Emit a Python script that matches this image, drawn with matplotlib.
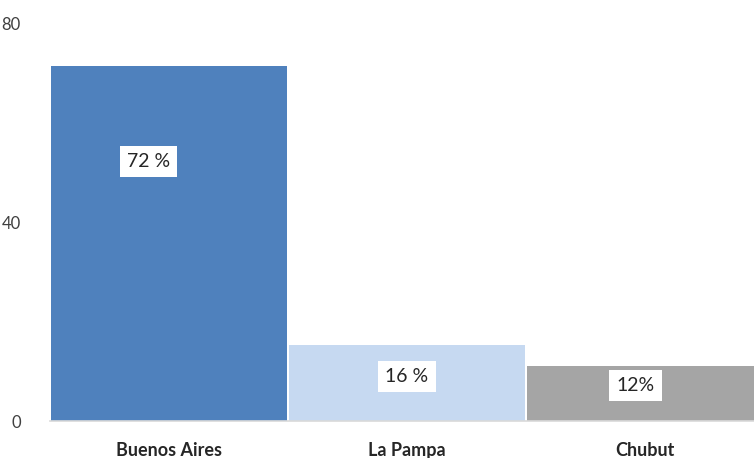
import matplotlib.pyplot as plt

plt.rcParams['font.family'] = ['Lato', 'DejaVu Sans']

provincias = ['Buenos Aires', 'La Pampa', 'Chubut']
valores = [71.6, 15.3, 11.1]
etiquetas = ['72 %', '16 %', '12%']
colores = ['#4F81BD', '#C6D9F1', '#A5A5A5']

# where the white label boxes sit (x offset from bar centre, y in data units)
etiq_dx = [-0.086, 0.0, -0.04]
etiq_y = [52.2, 8.9, 7.1]

fig = plt.figure(figsize=(7.54, 4.58), dpi=100)
ax = fig.add_axes([50 / 754, 37 / 458, 714 / 754, 397 / 458])

x = range(len(provincias))
ax.bar(x, valores, width=0.99, color=colores)

for i in x:
    ax.text(i + etiq_dx[i], etiq_y[i], etiquetas[i], ha='center', va='center',
            fontsize=14, color='#262626',
            bbox=dict(facecolor='white', edgecolor='none', pad=5))

ax.set_xlim(-0.5, 2.5)
ax.set_ylim(0, 80)
ax.set_yticks([0, 40, 80])
ax.set_xticks(list(x))
ax.set_xticklabels(provincias, fontsize=13, fontweight='bold', color='#262626')
ax.tick_params(axis='x', length=0, pad=15)
ax.tick_params(axis='y', length=0, pad=21, labelsize=12, labelcolor='#404040')

for s in ['top', 'right', 'left']:
    ax.spines[s].set_visible(False)
ax.spines['bottom'].set_color('#D9D9D9')
ax.spines['bottom'].set_linewidth(1.2)

fig.savefig('out.png', dpi=100)
